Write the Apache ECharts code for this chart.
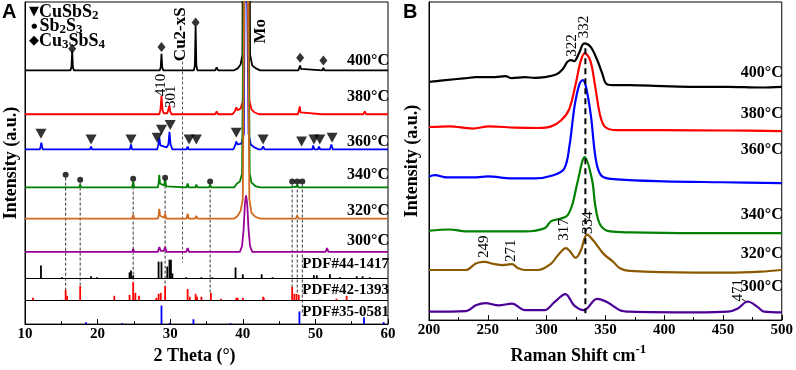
<!DOCTYPE html>
<html>
<head>
<meta charset="utf-8">
<script src="https://cdn.jsdelivr.net/npm/echarts@6/dist/echarts.min.js"></script>
<style>
  html, body { margin: 0; padding: 0; background: #fff; }
  #chart { width: 796px; height: 370px; }
</style>
</head>
<body>
<div id="chart"></div>
<script>
// ---- panel A: XRD, [2theta, intensity above the trace's own baseline]
const xrdOffsets = [260, 215, 179, 140, 108, 74];
const xrdTemps = ['400°C', '380°C', '360°C', '340°C', '320°C', '300°C'];
const xrd400 = [[10,0],[16.25,0],[16.4,3],[16.5,20],[16.6,3],[16.75,0],[18.35,0],[18.5,1.5],[18.65,0],
  [28.55,0],[28.7,3],[28.8,17],[28.9,3],[29.05,0],[33.25,0],[33.4,5],[33.5,45],[33.6,5],[33.75,0],
  [36.2,0],[36.4,3],[36.6,0],[38.8,0],[39.3,2],[39.7,6],[39.95,16],[40.1,340],[40.85,340],[41.0,16],[41.3,5],[41.8,2],[42.4,0],
  [47.65,0],[47.8,1.5],[47.9,5],[48.0,1.5],[48.15,0],[50.95,0],[51.1,2.5],[51.25,0],[56.6,0],[56.8,2],[57,0],[60,0]];
const xrd380 = [[10,0],[18.3,0],[18.5,1.5],[18.7,0],[28.5,0],[28.65,4],[28.8,19],[28.95,4],[29.1,1],[29.6,1],[29.8,3],[29.9,9],[30.0,3],[30.2,0],
  [33.1,0],[33.3,2],[33.5,0],[36.2,0],[36.4,3],[36.6,0],[38.6,0],[38.9,3],[39.1,7],[39.3,4],[39.7,6],[40.05,14],[40.25,340],[40.7,340],[40.9,14],[41.2,5],[41.6,2],[42.2,0],
  [42.6,0],[42.8,2],[43,0],[47.6,0],[47.75,2],[47.85,8],[47.95,2],[48.1,0],[50.9,0],[51.1,1],[51.3,0],[56.6,0],[56.8,3],[57,0],[60,0]];
const xrd360 = [[10,0],[12.05,0],[12.15,3],[12.25,7],[12.35,3],[12.45,0],[18.95,0],[19.1,3],[19.25,0],[24.45,0],[24.6,5],[24.75,0],
  [28.2,0],[28.35,4],[28.5,12],[28.65,4],[28.8,2],[29.5,2],[29.75,5],[29.9,18],[30.05,5],[30.3,0],[32.25,0],[32.4,3],[32.55,0],[33.45,0],[33.6,2],[33.75,0],
  [36.2,0],[36.4,2],[36.6,0],[38.7,0],[38.95,4],[39.1,8],[39.3,5],[39.8,6],[40.15,16],[40.35,340],[40.6,340],[40.8,16],[41.1,5],[41.6,2],[42.2,0],
  [42.6,0],[42.8,3],[43,0],[47.85,0],[48,1],[48.15,0],[49.55,0],[49.7,4],[49.85,0],[50.35,0],[50.5,3],[50.65,0],[52,0],[52.2,5],[52.4,0],[56.6,0],[56.8,1],[57,0],[60,0]];
const xrd340 = [[10,0],[15.45,0],[15.6,2],[15.75,0],[17.45,0],[17.6,3],[17.75,0],[24.75,0],[24.9,6],[25.05,0],[25.45,0],[25.6,2],[25.75,0],
  [28.3,0],[28.4,4],[28.5,13],[28.6,4],[28.8,2],[29.15,2],[29.3,8],[29.45,1],[29.6,0],[32.25,0],[32.4,4],[32.55,0],[33.45,0],[33.6,3],[33.75,0],
  [35.35,0],[35.5,3],[35.65,0],[36.25,0],[36.4,2],[36.55,0],[38.8,0],[39.2,4],[39.6,6],[39.9,14],[40.25,340],[40.65,340],[40.95,14],[41.2,5],[41.8,1],[42.4,0],
  [46.65,0],[46.8,2],[46.95,0.5],[47.35,0.5],[47.5,3],[47.65,0],[54.1,0],[54.3,2],[54.5,0],[56.6,0],[56.8,2],[57,0],[60,0]];
const xrd320 = [[10,0],[17.45,0],[17.6,2],[17.75,0],[24.75,0],[24.9,4],[25.05,0],[28.3,0],[28.4,3],[28.5,10],[28.6,3],[28.8,1],[29.15,1],[29.3,5],[29.45,0],
  [32.25,0],[32.4,5],[32.55,0],[33.45,0],[33.6,3],[33.75,0],[35.35,0],[35.5,2],[35.65,0],[36.3,0],[36.4,1],[36.5,0],
  [38.8,0],[39.3,3],[39.7,8],[40.0,20],[40.3,340],[40.6,340],[40.9,20],[41.2,6],[41.7,2],[42.4,0],
  [47.3,0],[47.5,3],[47.7,0],[54.1,0],[54.3,2],[54.5,0],[56.6,0],[56.8,1],[57,0],[60,0]];
const xrd300 = [[10,0],[24.75,0],[24.9,3],[25.05,0],[28.3,0],[28.5,5],[28.7,1],[29.1,1],[29.3,5],[29.5,0],[32.2,0],[32.4,4],[32.6,0],
  [39.6,0],[39.9,6],[40.1,22],[40.3,50],[40.45,58],[40.6,50],[40.8,22],[41.0,6],[41.3,0],
  [47.3,0],[47.5,2],[47.7,0],[51.4,0],[51.6,4],[51.8,0],[54.1,0],[54.3,1],[54.5,0],[60,0]];

// reference patterns: [2theta, relative height]
const pdfNames = ['PDF#44-1417', 'PDF#42-1393', 'PDF#35-0581'];
const pdfBase = [47, 24, 0];
const pdf44 = [[12.2,13],[15.1,1],[19.1,2],[19.9,1],[24.4,6],[24.6,8],[24.9,3],[28.4,17],[28.8,17],[29.6,12],[29.9,19],[30.1,19],[30.3,5],
  [32.2,1],[34.3,1],[35.8,1],[39.0,11],[40.0,4],[42.6,4],[44.1,1],[49.8,3],[50.2,3],[52.0,4],[53.4,1],[55.7,2],[56.5,2],[57.5,1]];
const pdf42 = [[11.1,3],[15.1,1],[15.6,11],[15.8,5],[17.6,15],[22.3,5],[24.4,6],[24.9,19],[25.2,8],[25.7,5],[28.1,3],[28.4,7],[28.7,8],[29.3,15],
  [32.4,12],[32.7,4],[33.5,7],[33.7,4],[34.3,4],[35.6,8],[37.0,2],[39.1,3],[39.3,3],[40.0,3],[42.8,4],[42.9,3],[46.8,14],[47.1,7],[47.4,7],[47.7,6],
  [50.6,1],[52.9,2],[54.3,5]];
const pdf35 = [[18.4,2],[23.4,1],[28.8,19],[29.9,1],[33.2,5],[38.3,1],[47.8,13],[56.7,7],[59.4,2]];

// phase markers [2theta, y]
const cu3sbs4Marks = [[16.5,282],[28.8,284],[33.5,309],[47.9,273],[51.1,270]];
const cusbs2Marks = [[12.2,195],[19.1,189],[24.6,189],[28.2,191],[28.8,199],[30.0,204],[32.6,189],[33.6,189],[39.1,196],[42.8,189],[48.1,187],[49.8,189],[50.6,189],[52.3,191]];
const sb2s3Marks = [[15.6,153],[17.6,148],[24.9,149],[29.3,150],[35.5,146],[46.8,146],[47.5,146],[48.2,146]];
// dashed guide lines [x, yFrom, yTo]
const sb2s3Drops = [[15.6,150,35],[17.6,145,39],[24.9,146,43],[29.3,147,39],[35.5,143,32],[46.8,143,38],[47.5,143,30],[48.2,143,10]];
const cu2xsDrop = [[31.7,269,63]];

// ---- panel B: Raman, [shift, intensity above baseline]
const ramanOffsets = [240, 195, 141, 90, 49, 8];
const raman400 = [[200,7],[212,8.7],[231.5,11],[239.8,12],[256.5,12],[264.9,13],[270.5,11],[281.6,12],[290,11.3],[298.3,12],[308,14.7],[313.7,20.3],
  [317.8,28],[321,29.7],[323.4,28.7],[327.6,37],[332,47],[337.3,43.7],[342.9,30.3],[347,17],[351.3,4.7],[359.6,3.7],[370.7,3.7],[398.6,2.7],[426.5,2],[454.3,2],[482.2,1.3],[500,2]];
const raman380 = [[200,5.3],[217.5,6],[237,3.7],[251,6],[273.2,4.7],[292.7,4.3],[303.9,6],[312.2,12],[319.2,23.7],[324.8,50.3],[329,73.7],[332.5,82],
  [337.3,73.7],[341.4,47],[345.6,17],[349.8,5.3],[359.6,2],[398.6,2],[454.3,1.7],[500,1]];
const raman360 = [[200,8],[205,9.5],[215,7],[240,7],[250,8],[270,6],[290,6],[305,9],[315,16],[319.6,41],[323.8,81],[328,104],[330.8,108],
  [333.5,101],[337.7,71],[340.5,38],[343.2,18],[347.4,8],[360,5],[400,3],[450,2],[500,1]];
const raman340 = [[200,2.7],[217.5,4],[231.5,2],[259.3,2],[281.6,2],[298.3,5.3],[303.9,12.7],[312.2,15.3],[317.8,18.7],[322,30.3],[326.1,52],[332.5,79],
  [338.7,55.3],[341.4,29],[345.6,9],[354,2],[370.7,1],[426.5,0.3],[500,0.3]];
const raman320 = [[200,3],[231.5,3],[239.8,9.7],[247,11.3],[256,9],[262,8],[270.5,9],[276,4.7],[281.6,3],[292.7,3],[303.9,9.7],[309.5,18],[316.5,25.7],
  [319.5,23],[324.8,15.7],[329,23],[334.5,39.7],[340.1,33],[348.5,19.7],[356.8,11.3],[362.4,4.7],[370.7,2],[426.5,0.3],[454.3,0.3],[482.2,1.3],[500,3]];
const raman300 = [[200,0.7],[231.5,1.3],[239.8,7.3],[248.1,9.7],[259.3,7.3],[270.5,9],[281.6,2.3],[298.3,2.3],[306.7,10.7],[316,19],[323.4,7.3],
  [331.7,2.3],[342.9,14],[351.3,10.7],[362.4,2.3],[370.7,0.7],[426.5,0],[454.3,0.7],[462.7,4],[471,11.3],[479.4,5.7],[484.9,0.7],[500,0]];
const ramanDrop = [[333,282,7]];

// text labels [text, x, y]
const xrdTempLabels = [['400°C',270],['380°C',233],['360°C',187],['340°C',153],['320°C',116],['300°C',85]];
const pdfLabels = [['PDF#44-1417',61],['PDF#42-1393',35],['PDF#35-0581',12]];
const ramanTempLabels = [['400°C',257],['380°C',214],['360°C',177],['340°C',109],['320°C',69],['300°C',34]];
const xrdPeakLabels = [['Cu2-xS',31.5,297],['Mo',42.4,300],['410',28.7,245],['301',30.1,233]];
const ramanPeakLabels = [['322',322,285],['332',332,304],['249',247,76],['271',270,72],['317',315,94],['334',335,101],['471',463,31]];

const serif = '"Liberation Serif", "Times New Roman", serif';
const xrdColors = ['#000000', '#ff0000', '#0000ff', '#008000', '#d2691e', '#990099'];
const ramanColors = ['#000000', '#ff0000', '#0000ff', '#008000', '#8b5a00', '#4b0096'];

const shift = (arr, off) => arr.map(p => [p[0], p[1] + off]);

const vline = (color, width, dash) => function (params, api) {
  const a = api.coord([api.value(0), api.value(1)]);
  const b = api.coord([api.value(0), api.value(2)]);
  return { type: 'line', shape: { x1: a[0], y1: a[1], x2: b[0], y2: b[1] },
    style: { stroke: color, lineWidth: width, lineDash: dash } };
};

const chart = echarts.init(document.getElementById('chart'));

const xrdSeries = [xrd400, xrd380, xrd360, xrd340, xrd320, xrd300].map((d, i) => ({
  type: 'line', xAxisIndex: 0, yAxisIndex: 0, data: shift(d, xrdOffsets[i]),
  showSymbol: false, symbol: 'none', lineStyle: { color: xrdColors[i], width: 1.8 }, z: 3
}));
xrdSeries[5].markLine = {
  silent: true, symbol: 'none', label: { show: false },
  lineStyle: { color: '#000', width: 1, type: 'solid' },
  data: [{ yAxis: pdfBase[0] }, { yAxis: pdfBase[1] }]
};

const pdfSeries = [pdf44, pdf42, pdf35].map((d, i) => ({
  type: 'custom', xAxisIndex: 0, yAxisIndex: 0,
  data: d.map(p => [p[0], pdfBase[i], pdfBase[i] + p[1]]),
  renderItem: vline(['#000', '#ff0000', '#0000ff'][i], 1.8, null), z: 2
}));

const ramanSeries = [raman400, raman380, raman360, raman340, raman320, raman300].map((d, i) => ({
  type: 'line', xAxisIndex: 1, yAxisIndex: 1, data: shift(d, ramanOffsets[i]), smooth: 0.35,
  showSymbol: false, symbol: 'none', lineStyle: { color: ramanColors[i], width: 2.2 }, z: 3
}));

const markSeries = [
  { data: cu3sbs4Marks, symbol: 'diamond', symbolSize: [8, 10] },
  { data: cusbs2Marks, symbol: 'triangle', symbolSize: [11, 10], symbolRotate: 180 },
  { data: sb2s3Marks, symbol: 'circle', symbolSize: 6 }
].map(s => Object.assign({ type: 'scatter', xAxisIndex: 0, yAxisIndex: 0, itemStyle: { color: '#000' }, z: 4 }, s));

const axisX = (gi, min, max, interval, name, nameStyle) => ({
  type: 'value', gridIndex: gi, min: min, max: max, interval: interval,
  axisLine: { lineStyle: { color: '#000', width: 1 } },
  axisTick: { inside: true, length: 5, lineStyle: { color: '#000' } },
  minorTick: { show: true, splitNumber: 2, length: 3, lineStyle: { color: '#000' } },
  splitLine: { show: false },
  axisLabel: { color: '#000', fontFamily: serif, fontWeight: 'bold', fontSize: 15, margin: 3 },
  name: name, nameLocation: 'middle', nameGap: 16, nameTextStyle: nameStyle
});
const axisY = (gi, gap) => ({
  type: 'value', gridIndex: gi, min: 0, max: 330,
  axisLine: { show: true, lineStyle: { color: '#000', width: 1 } },
  axisTick: { show: false }, axisLabel: { show: false }, splitLine: { show: false },
  name: 'Intensity (a.u.)', nameLocation: 'middle', nameGap: gap,
  nameTextStyle: { color: '#000', fontFamily: serif, fontWeight: 'bold', fontSize: 18 }
});

chart.setOption({
  animation: false,
  backgroundColor: '#fff',
  grid: [
    { left: 25, top: 2, width: 363, height: 330, show: true, borderColor: '#000', borderWidth: 1 },
    { left: 429, top: 2, width: 360, height: 330, show: true, borderColor: '#000', borderWidth: 1 }
  ],
  xAxis: [
    axisX(0, 10, 60, 10, '2 Theta (°)',
      { color: '#000', fontFamily: serif, fontWeight: 'bold', fontSize: 18, padding: [0, 24, 0, 0] }),
    axisX(1, 200, 500, 50, '{n|Raman Shift cm}{s|-1}',
      { color: '#000', fontFamily: serif, fontWeight: 'bold', fontSize: 18, padding: [0, 54, 0, 0],
        rich: { n: { fontFamily: serif, fontWeight: 'bold', fontSize: 18, lineHeight: 22, verticalAlign: 'bottom' },
                s: { fontFamily: serif, fontWeight: 'bold', fontSize: 13, lineHeight: 22, verticalAlign: 'top' } } })
  ],
  yAxis: [axisY(0, 5), axisY(1, 8)],
  series: [
    ...pdfSeries,
    { type: 'custom', xAxisIndex: 0, yAxisIndex: 0, data: sb2s3Drops, renderItem: vline('#333', 1, [3, 2]), z: 1 },
    { type: 'custom', xAxisIndex: 0, yAxisIndex: 0, data: cu2xsDrop, renderItem: vline('#555', 1, [3, 2]), z: 1 },
    ...xrdSeries,
    ...markSeries,
    ...ramanSeries,
    { type: 'custom', xAxisIndex: 1, yAxisIndex: 1, data: ramanDrop, renderItem: vline('#000', 2, [6, 4]), z: 5 }
  ]
});

// text labels placed through the axes
const px = (gi, pt) => chart.convertToPixel({ gridIndex: gi }, pt);
const bold = { fontFamily: serif, fontWeight: 'bold', fontSize: 16, fill: '#000' };
const graphics = [];
xrdTempLabels.forEach(l => {
  const p = px(0, [60, l[1]]);
  graphics.push({ type: 'text', x: p[0] + 1, y: p[1], z: 10,
    style: Object.assign({ text: l[0], align: 'right', verticalAlign: 'middle' }, bold) });
});
pdfLabels.forEach(l => {
  const p = px(0, [60, l[1]]);
  graphics.push({ type: 'text', x: p[0] + 1, y: p[1], z: 10,
    style: Object.assign({ text: l[0], align: 'right', verticalAlign: 'middle' }, bold, { fontSize: 15 }) });
});
ramanTempLabels.forEach(l => {
  const p = px(1, [500, l[1]]);
  graphics.push({ type: 'text', x: p[0] + 1, y: p[1], z: 10,
    style: Object.assign({ text: l[0], align: 'right', verticalAlign: 'middle' }, bold) });
});
xrdPeakLabels.forEach(l => {
  const p = px(0, [l[1], l[2]]);
  const big = l[0] === 'Mo' || l[0] === 'Cu2-xS';
  graphics.push({ type: 'text', x: p[0], y: p[1], rotation: Math.PI / 2, z: 10,
    style: { text: l[0], align: 'center', verticalAlign: 'middle', fontFamily: serif,
      fontWeight: big ? 'bold' : 'normal', fontSize: big ? 17 : 15, fill: '#000' } });
});
ramanPeakLabels.forEach(l => {
  const p = px(1, [l[1], l[2]]);
  graphics.push({ type: 'text', x: p[0], y: p[1], rotation: Math.PI / 2, z: 10,
    style: { text: l[0], align: 'center', verticalAlign: 'middle', fontFamily: serif, fontSize: 15, fill: '#000' } });
});
// little pointer from "471" to its peak
const a1 = px(1, [466, 22]), a2 = px(1, [471, 18]);
graphics.push({ type: 'line', shape: { x1: a1[0], y1: a1[1], x2: a2[0], y2: a2[1] }, style: { stroke: '#000', lineWidth: 1 } });

// phase legend, top left of panel A
const legendRich = {
  m: { fontFamily: 'DejaVu Sans', fontSize: 13, lineHeight: 16, verticalAlign: 'middle' },
  d: { fontFamily: 'DejaVu Sans', fontSize: 7, lineHeight: 16, verticalAlign: 'middle' },
  n: { fontFamily: serif, fontWeight: 'bold', fontSize: 18, lineHeight: 16, verticalAlign: 'middle' },
  s: { fontFamily: serif, fontWeight: 'bold', fontSize: 13, lineHeight: 16, padding: [8, 0, 0, 0], verticalAlign: 'middle' }
};
[['{m|▼}{n|CuSbS}{s|2}', 12], ['{d| ● }{n|Sb}{s|2}{n|S}{s|3}', 26], ['{m|◆}{n|Cu}{s|3}{n|SbS}{s|4}', 41]].forEach(l => {
  graphics.push({ type: 'text', x: 29, y: l[1], z: 10,
    style: { text: l[0], rich: legendRich, verticalAlign: 'middle', fill: '#000' } });
});
graphics.push({ type: 'text', x: 2, y: 12, z: 10,
  style: { text: 'A', fontFamily: '"Liberation Sans", Arial, sans-serif', fontWeight: 'bold', fontSize: 20, verticalAlign: 'middle', fill: '#000' } });
graphics.push({ type: 'text', x: 403, y: 12, z: 10,
  style: { text: 'B', fontFamily: '"Liberation Sans", Arial, sans-serif', fontWeight: 'bold', fontSize: 20, verticalAlign: 'middle', fill: '#000' } });

chart.setOption({ graphic: graphics });
</script>
</body>
</html>
